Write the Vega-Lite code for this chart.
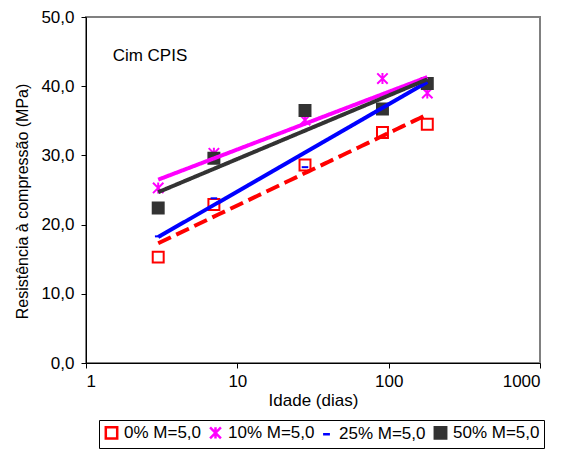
{
  "$schema": "https://vega.github.io/schema/vega-lite/v6.json",
  "width": 454,
  "height": 346,
  "autosize": {"type": "none"},
  "padding": {"left": 86, "top": 17, "right": 34, "bottom": 89},
  "background": "white",
  "config": {
    "font": "Liberation Sans",
    "view": {"stroke": "#808080", "strokeWidth": 2},
    "axis": {
      "grid": false,
      "domainColor": "black",
      "tickColor": "black",
      "labelColor": "black",
      "titleColor": "black",
      "labelFont": "Liberation Sans",
      "titleFont": "Liberation Sans",
      "labelFontSize": 17,
      "titleFontSize": 17,
      "titleFontWeight": "normal",
      "tickSize": 5
    },
    "legend": {
      "labelFont": "Liberation Sans",
      "labelFontSize": 17,
      "labelColor": "black"
    }
  },
  "datasets": {
    "ensaios": [
      {"serie": "0% M=5,0", "dias": 3, "res": 15.3},
      {"serie": "0% M=5,0", "dias": 7, "res": 22.9},
      {"serie": "0% M=5,0", "dias": 28, "res": 28.6},
      {"serie": "0% M=5,0", "dias": 91, "res": 33.3},
      {"serie": "0% M=5,0", "dias": 180, "res": 34.5},
      {"serie": "10% M=5,0", "dias": 3, "res": 25.3},
      {"serie": "10% M=5,0", "dias": 7, "res": 30.3},
      {"serie": "10% M=5,0", "dias": 28, "res": 35.1},
      {"serie": "10% M=5,0", "dias": 91, "res": 41.1},
      {"serie": "10% M=5,0", "dias": 180, "res": 39.0},
      {"serie": "25% M=5,0", "dias": 3, "res": 18.3},
      {"serie": "25% M=5,0", "dias": 7, "res": 23.8},
      {"serie": "25% M=5,0", "dias": 28, "res": 28.3},
      {"serie": "25% M=5,0", "dias": 91, "res": 37.4},
      {"serie": "25% M=5,0", "dias": 180, "res": 41.1},
      {"serie": "50% M=5,0", "dias": 3, "res": 22.4},
      {"serie": "50% M=5,0", "dias": 7, "res": 29.6},
      {"serie": "50% M=5,0", "dias": 28, "res": 36.5},
      {"serie": "50% M=5,0", "dias": 91, "res": 36.7},
      {"serie": "50% M=5,0", "dias": 180, "res": 40.4}
    ],
    "nota": [
      {"dias": 1.5, "res": 44.4, "texto": "Cim CPIS"}
    ]
  },
  "layer": [
    {
      "data": {"name": "ensaios"},
      "mark": {"type": "point", "filled": false, "strokeWidth": 2, "opacity": 1},
      "encoding": {
        "x": {
          "field": "dias",
          "type": "quantitative",
          "scale": {"type": "log", "domain": [1, 1000], "nice": false},
          "axis": {
            "title": "Idade (dias)",
            "values": [1, 10, 100, 1000],
            "format": "d",
            "labelPadding": 5,
            "titlePadding": 3
          }
        },
        "y": {
          "field": "res",
          "type": "quantitative",
          "scale": {"domain": [0, 50], "nice": false},
          "axis": {
            "title": "Resistência à compressão (MPa)",
            "titleFontSize": 16,
            "titleY": 184,
            "values": [0, 10, 20, 30, 40, 50],
            "labelExpr": "replace(format(datum.value, '.1f'), '.', ',')",
            "labelPadding": 7,
            "titlePadding": 10
          }
        },
        "color": {
          "field": "serie",
          "type": "nominal",
          "scale": {
            "domain": ["0% M=5,0", "10% M=5,0", "25% M=5,0", "50% M=5,0"],
            "range": ["#FF0000", "#FF00FF", "#0000FF", "#333333"]
          },
          "legend": {
            "title": null,
            "orient": "none",
            "direction": "horizontal",
            "legendX": 13,
            "legendY": 403,
            "strokeColor": "black",
            "padding": 4,
            "columnPadding": 3,
            "symbolSize": 130,
            "symbolStrokeWidth": 2.5,
            "labelOffset": 4
          }
        },
        "fill": {
          "field": "serie",
          "type": "nominal",
          "scale": {
            "domain": ["0% M=5,0", "10% M=5,0", "25% M=5,0", "50% M=5,0"],
            "range": ["transparent", "transparent", "transparent", "#333333"]
          },
          "legend": {"title": null}
        },
        "shape": {
          "field": "serie",
          "type": "nominal",
          "scale": {
            "domain": ["0% M=5,0", "10% M=5,0", "25% M=5,0", "50% M=5,0"],
            "range": [
              "square",
              "M0,-1L0,1M-0.95,-0.95L0.95,0.95M-0.95,0.95L0.95,-0.95",
              "M-0.6,0L0.6,0",
              "square"
            ]
          },
          "legend": {"title": null}
        },
        "size": {"value": 120}
      }
    },
    {
      "data": {"name": "ensaios"},
      "transform": [
        {
          "regression": "res",
          "on": "dias",
          "groupby": ["serie"],
          "method": "log",
          "extent": [3, 180]
        }
      ],
      "mark": {"type": "line", "strokeWidth": 4, "strokeCap": "butt"},
      "encoding": {
        "x": {"field": "dias", "type": "quantitative"},
        "y": {"field": "res", "type": "quantitative"},
        "stroke": {
          "field": "serie",
          "type": "nominal",
          "scale": {
            "domain": ["0% M=5,0", "10% M=5,0", "25% M=5,0", "50% M=5,0"],
            "range": ["#FF0000", "#FF00FF", "#0000FF", "#333333"]
          },
          "legend": null
        },
        "strokeDash": {
          "condition": {"test": "datum.serie === '0% M=5,0'", "value": [14, 6]},
          "value": [1, 0]
        }
      }
    },
    {
      "data": {"name": "nota"},
      "mark": {"type": "text", "align": "left", "baseline": "middle", "fontSize": 17, "font": "Liberation Sans", "color": "black"},
      "encoding": {
        "x": {"field": "dias", "type": "quantitative"},
        "y": {"field": "res", "type": "quantitative"},
        "text": {"field": "texto"}
      }
    }
  ]
}
